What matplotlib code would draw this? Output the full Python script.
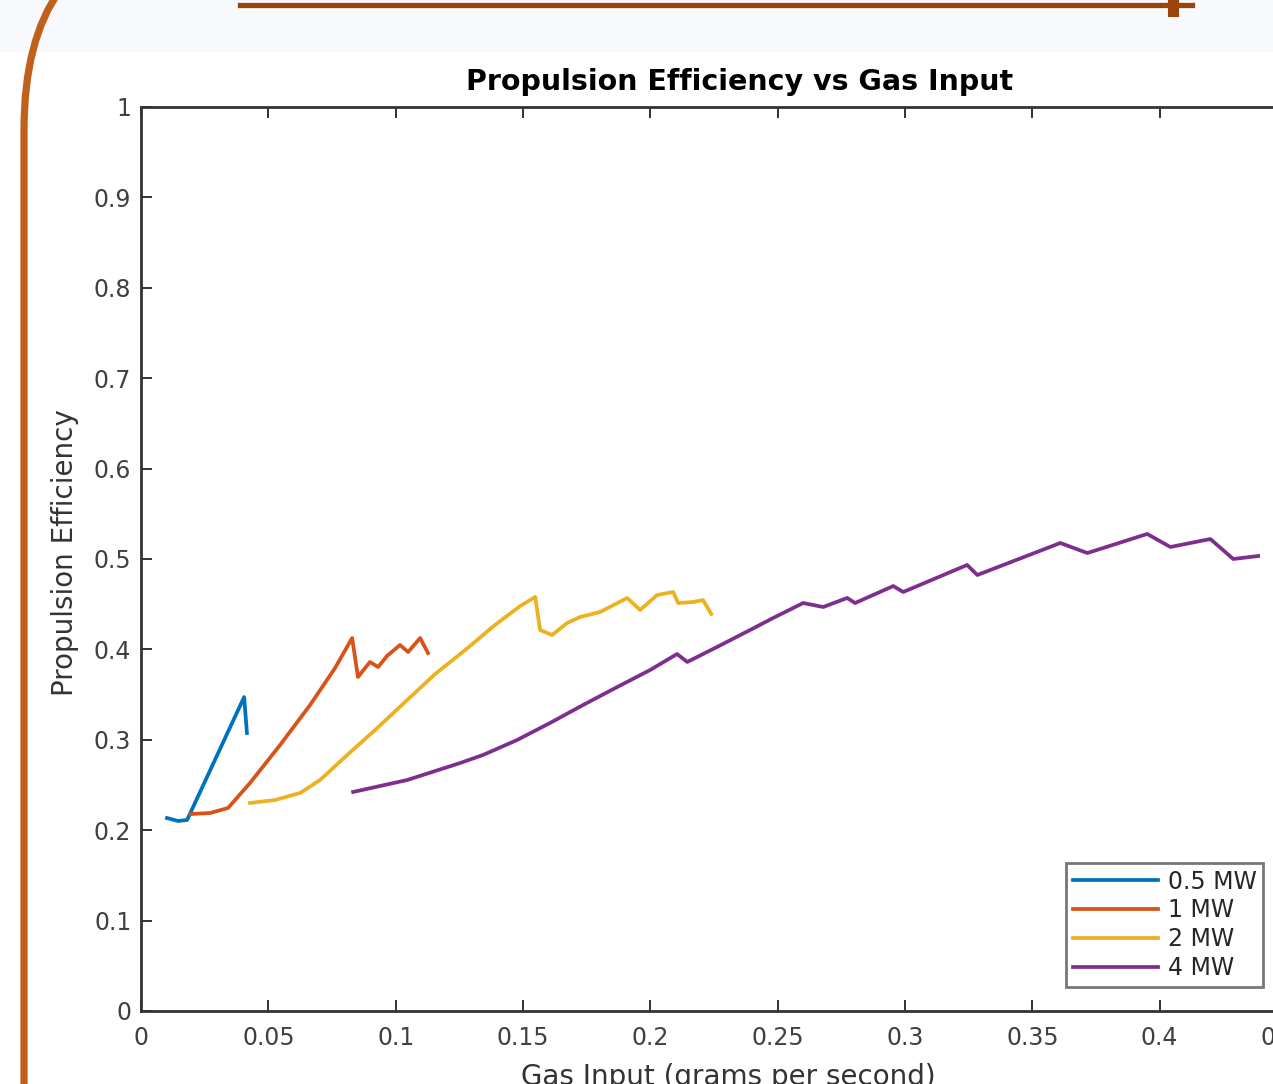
import matplotlib
matplotlib.use("Agg")
import matplotlib.pyplot as plt
from matplotlib.path import Path
from matplotlib.patches import PathPatch, Rectangle
from matplotlib.lines import Line2D

gas_05 = [0.0102, 0.0145, 0.0181, 0.0405, 0.0416]
eff_05 = [0.2135, 0.2102, 0.2113, 0.3473, 0.3075]

gas_1 = [0.0196, 0.0271, 0.0342, 0.0428, 0.0546, 0.0664, 0.0762, 0.0829,
         0.0852, 0.0899, 0.0931, 0.0966, 0.1017, 0.1049, 0.1096, 0.1127]
eff_1 = [0.2179, 0.2190, 0.2246, 0.2522, 0.2942, 0.3385, 0.3794, 0.4126,
         0.3695, 0.3861, 0.3805, 0.3927, 0.4049, 0.3971, 0.4126, 0.3960]

gas_2 = [0.0428, 0.0526, 0.0625, 0.0703, 0.0801, 0.0919, 0.1037, 0.1155,
         0.1273, 0.1390, 0.1489, 0.1548, 0.1567, 0.1614, 0.1673, 0.1724,
         0.1803, 0.1909, 0.1960, 0.2027, 0.2090, 0.2109, 0.2168, 0.2207, 0.2239]
eff_2 = [0.2301, 0.2334, 0.2412, 0.2555, 0.2810, 0.3108, 0.3418, 0.3728,
         0.3993, 0.4270, 0.4480, 0.4580, 0.4215, 0.4159, 0.4292, 0.4358,
         0.4414, 0.4569, 0.4436, 0.4602, 0.4635, 0.4513, 0.4524, 0.4546, 0.4392]

gas_4 = [0.0833, 0.1045, 0.1253, 0.1343, 0.1477, 0.1606, 0.1736, 0.1870,
         0.1999, 0.2105, 0.2145, 0.2262, 0.2392, 0.2482, 0.2600, 0.2679,
         0.2773, 0.2804, 0.2954, 0.2993, 0.3244, 0.3284, 0.3610, 0.3716,
         0.3951, 0.4042, 0.4199, 0.4289, 0.4387]
eff_4 = [0.2423, 0.2555, 0.2743, 0.2832, 0.2998, 0.3186, 0.3385, 0.3584,
         0.3772, 0.3949, 0.3861, 0.4027, 0.4215, 0.4347, 0.4513, 0.4469,
         0.4569, 0.4513, 0.4701, 0.4635, 0.4934, 0.4823, 0.5177, 0.5066,
         0.5277, 0.5133, 0.5221, 0.5000, 0.5033]

labels = ["0.5 MW", "1 MW", "2 MW", "4 MW"]
colors = ["#0072BD", "#D95319", "#EDB120", "#7E2F8E"]

xticks = [0, 0.05, 0.1, 0.15, 0.2, 0.25, 0.3, 0.35, 0.4, 0.45]
xtick_labels = ["0", "0.05", "0.1", "0.15", "0.2", "0.25", "0.3", "0.35", "0.4", "0.45"]
yticks = [0, 0.1, 0.2, 0.3, 0.4, 0.5, 0.6, 0.7, 0.8, 0.9, 1]
ytick_labels = ["0", "0.1", "0.2", "0.3", "0.4", "0.5", "0.6", "0.7", "0.8", "0.9", "1"]

W, H = 1273, 1084


def px(x, y):
    return x / W, 1 - y / H


fig = plt.figure(figsize=(W / 100, H / 100), dpi=100)
fig.patch.set_facecolor("white")

# light band on top of the screenshot
fig.add_artist(Rectangle((0, 1 - 52 / H), 1, 52 / H, transform=fig.transFigure,
                         facecolor="#f7f9fc", edgecolor="none", zorder=0))

ax = fig.add_axes([141 / W, (H - 1011) / H, 1146 / W, 904 / H])

for gx, ey, lab, c in zip([gas_05, gas_1, gas_2, gas_4],
                          [eff_05, eff_1, eff_2, eff_4], labels, colors):
    ax.plot(gx, ey, color=c, lw=2.7, label=lab, solid_joinstyle="round")

ax.set_xlim(0, 0.45)
ax.set_ylim(0, 1)
ax.set_xticks(xticks)
ax.set_xticklabels(xtick_labels)
ax.set_yticks(yticks)
ax.set_yticklabels(ytick_labels)
ax.tick_params(direction="in", length=8, width=1.4, colors="#333333",
               labelsize=17, top=True, right=True, pad=7)
ax.tick_params(axis="x", pad=11)
for t in ax.get_xticklabels() + ax.get_yticklabels():
    t.set_color("#404040")
for s in ax.spines.values():
    s.set_color("#333333")
    s.set_linewidth(2)

leg = ax.legend(loc="lower left", bbox_to_anchor=(1066 / W, (H - 987) / H),
                bbox_transform=fig.transFigure, fontsize=17, frameon=True,
                fancybox=False, edgecolor="#555555", handlelength=3.6,
                handletextpad=0.4, labelspacing=0.2, borderpad=0.3,
                borderaxespad=0)
leg.get_frame().set_linewidth(2)
for t in leg.get_texts():
    t.set_color("#262626")

fig.text(740 / W, 1 - 82 / H, "Propulsion Efficiency vs Gas Input",
         ha="center", va="center", fontsize=20.5, fontweight="bold")
fig.text(728 / W, 1 - 1077 / H, "Gas Input (grams per second)",
         ha="center", va="center", fontsize=20, color="#333333")
fig.text(65 / W, 1 - 553 / H, "Propulsion Efficiency", rotation=90,
         ha="center", va="center", fontsize=20, color="#333333")

# orange frame of the slide
verts = [px(24, H + 5), px(24, 130), px(24, 40), px(60, -10)]
codes = [Path.MOVETO, Path.LINETO, Path.CURVE3, Path.CURVE3]
fig.add_artist(PathPatch(Path(verts, codes), transform=fig.transFigure,
                         fill=False, edgecolor="#c0601a", lw=5.2))
fig.add_artist(Line2D([240 / W, 1192 / W], [1 - 5 / H, 1 - 5 / H],
                      transform=fig.transFigure, color="#9a440c", lw=3.8))
fig.add_artist(Line2D([1173 / W, 1173 / W], [1 - 3 / H, 1 - 11 / H],
                      transform=fig.transFigure, color="#9a440c", lw=8))

fig.savefig("out.png", dpi=100)
